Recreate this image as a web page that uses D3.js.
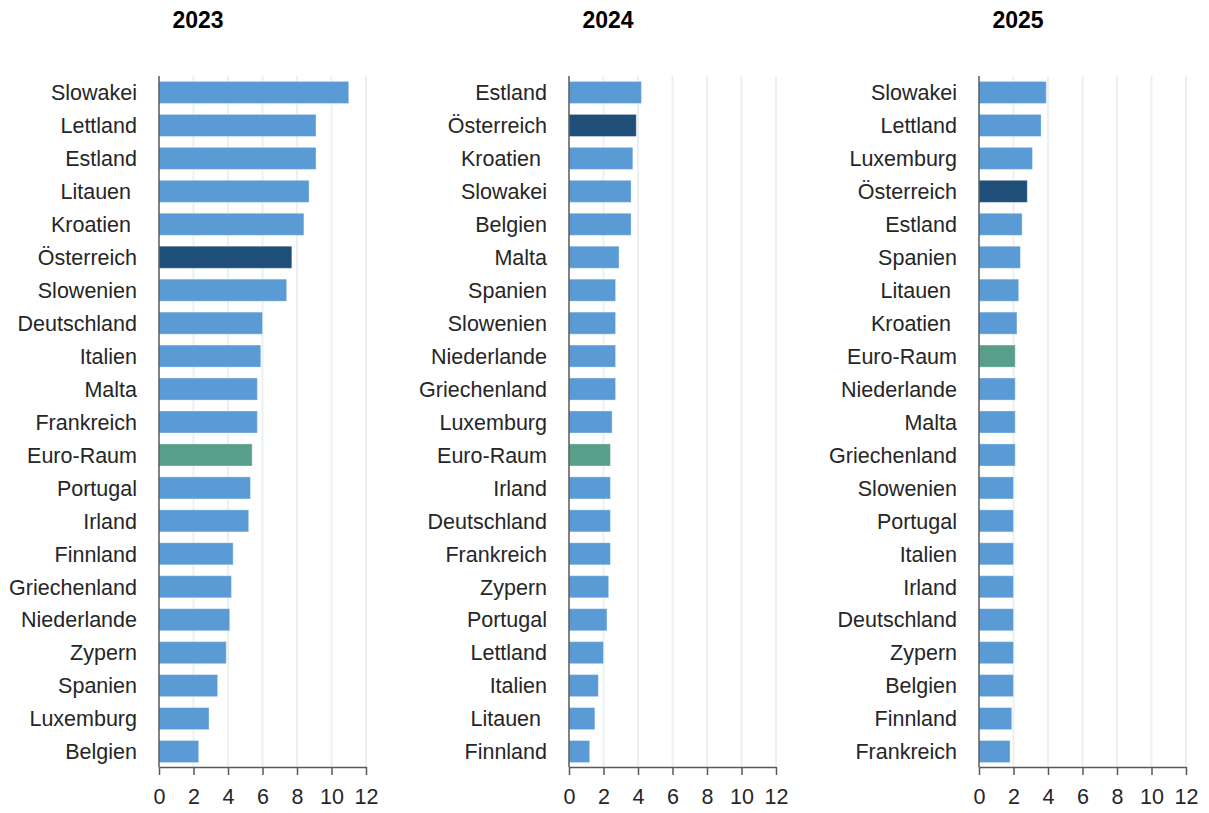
<!DOCTYPE html>
<html>
<head>
<meta charset="utf-8">
<script src="https://cdn.jsdelivr.net/npm/d3@7"></script>
<style>
  html, body { margin: 0; padding: 0; background: #ffffff; }
  svg text { font-family: "Liberation Sans", Arial, sans-serif; }
</style>
</head>
<body>
<svg id="chart" width="1209" height="813"></svg>
<script>
// ---- Data ----
const years = ["2023", "2024", "2025"];

const countries2023 = ["Slowakei", "Lettland", "Estland", "Litauen ", "Kroatien ", "Österreich", "Slowenien", "Deutschland", "Italien", "Malta", "Frankreich", "Euro-Raum", "Portugal", "Irland", "Finnland", "Griechenland", "Niederlande", "Zypern", "Spanien", "Luxemburg", "Belgien"];
const values2023 = [11.0, 9.1, 9.1, 8.7, 8.4, 7.7, 7.4, 6.0, 5.9, 5.7, 5.7, 5.4, 5.3, 5.2, 4.3, 4.2, 4.1, 3.9, 3.4, 2.9, 2.3];

const countries2024 = ["Estland", "Österreich", "Kroatien ", "Slowakei", "Belgien", "Malta", "Spanien", "Slowenien", "Niederlande", "Griechenland", "Luxemburg", "Euro-Raum", "Irland", "Deutschland", "Frankreich", "Zypern", "Portugal", "Lettland", "Italien", "Litauen ", "Finnland"];
const values2024 = [4.2, 3.9, 3.7, 3.6, 3.6, 2.9, 2.7, 2.7, 2.7, 2.7, 2.5, 2.4, 2.4, 2.4, 2.4, 2.3, 2.2, 2.0, 1.7, 1.5, 1.2];

const countries2025 = ["Slowakei", "Lettland", "Luxemburg", "Österreich", "Estland", "Spanien", "Litauen ", "Kroatien ", "Euro-Raum", "Niederlande", "Malta", "Griechenland", "Slowenien", "Portugal", "Italien", "Irland", "Deutschland", "Zypern", "Belgien", "Finnland", "Frankreich"];
const values2025 = [3.9, 3.6, 3.1, 2.8, 2.5, 2.4, 2.3, 2.2, 2.1, 2.1, 2.1, 2.1, 2.0, 2.0, 2.0, 2.0, 2.0, 2.0, 2.0, 1.9, 1.8];

const xTicks = [0, 2, 4, 6, 8, 10, 12];

const panels = [
  { year: years[0], countries: countries2023, values: values2023 },
  { year: years[1], countries: countries2024, values: values2024 },
  { year: years[2], countries: countries2025, values: values2025 }
];

// ---- Layout ----
const svg = d3.select("#chart");
const panelX0 = [159, 569, 979];
const plotW = 207;
const plotTop = 76, plotBottom = 768, axisY = 767;

const colorFor = name => {
  const n = name.trim();
  if (n === "Österreich") return "#1f4e79";
  if (n === "Euro-Raum") return "#579e8b";
  return "#5b9bd5";
};

panels.forEach((p, i) => {
  const x0 = panelX0[i];
  const g = svg.append("g");

  const x = d3.scaleLinear().domain([0, 12]).range([x0, x0 + plotW]);
  const y = d3.scaleBand().domain(p.countries).range([plotTop, plotBottom])
    .paddingInner(0.33).paddingOuter(0.165);

  // title
  g.append("text")
    .attr("x", x0 + 39)
    .attr("y", 28)
    .attr("text-anchor", "middle")
    .style("font-size", "23px")
    .style("font-weight", "bold")
    .attr("fill", "#000")
    .text(p.year);

  // gridlines
  g.selectAll("line.grid").data(xTicks.filter(t => t > 0)).enter()
    .append("line")
    .attr("class", "grid")
    .attr("x1", d => x(d)).attr("x2", d => x(d))
    .attr("y1", plotTop).attr("y2", axisY)
    .attr("stroke", "#ebf1f2")
    .attr("stroke-width", 2);

  // bars
  g.selectAll("rect.bar").data(p.countries.map((c, k) => ({ c, v: p.values[k] }))).enter()
    .append("rect")
    .attr("class", "bar")
    .attr("x", x(0))
    .attr("y", d => y(d.c))
    .attr("width", d => x(d.v) - x(0))
    .attr("height", y.bandwidth())
    .attr("fill", d => colorFor(d.c))
    .attr("stroke", "rgba(255,255,255,0.35)")
    .attr("stroke-width", 1);

  // category labels
  g.selectAll("text.cat").data(p.countries).enter()
    .append("text")
    .attr("class", "cat")
    .attr("x", x0 - 22)
    .attr("y", d => y(d) + y.bandwidth() / 2)
    .attr("dy", "0.36em")
    .attr("text-anchor", "end")
    .style("font-size", "21.5px")
    .style("white-space", "pre")
    .attr("fill", "#262626")
    .text(d => d);

  // y axis line
  g.append("line")
    .attr("x1", x0).attr("x2", x0)
    .attr("y1", plotTop).attr("y2", axisY)
    .attr("stroke", "#595959").attr("stroke-width", 1.5);

  // x axis
  const xAxis = d3.axisBottom(x).tickValues(xTicks).tickSize(8).tickSizeOuter(0).tickPadding(14)
    .tickFormat(d3.format("d"));
  const ax = g.append("g").attr("transform", `translate(0,${axisY})`).call(xAxis);
  ax.select(".domain").attr("stroke", "#595959").attr("stroke-width", 1.5);
  ax.selectAll(".tick line").attr("stroke", "#595959").attr("stroke-width", 1.5);
  ax.selectAll(".tick text")
    .style("font-size", "21.5px")
    .style("font-family", "'Liberation Sans', Arial, sans-serif")
    .attr("fill", "#262626");
});
</script>
</body>
</html>
